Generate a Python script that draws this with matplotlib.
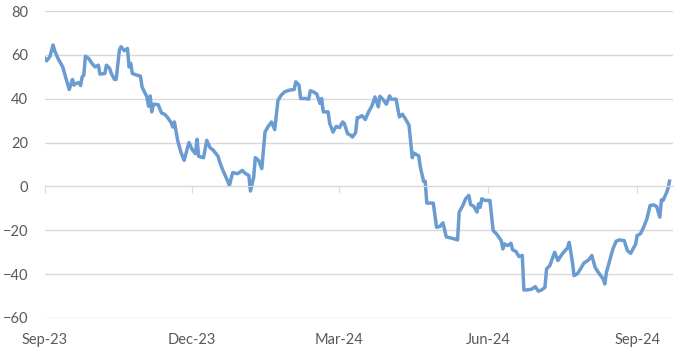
import matplotlib
matplotlib.use('Agg')
import matplotlib.pyplot as plt
import matplotlib.dates as mdates
import pandas as pd

# days since 1 Sep 2023 and the value at each day
days = [0, 1, 3, 5, 6, 8, 9, 11, 13, 15, 17, 18, 19, 21, 22, 23, 24, 25, 27, 29,
        31, 33, 34, 37, 38, 40, 41, 43, 44, 46, 47, 49, 51, 52, 53, 54, 57, 59, 60, 63,
        64, 65, 66, 67, 70, 72, 74, 76, 78, 79, 80, 82, 84, 86, 89, 91, 93, 94, 95, 98,
        100, 102, 104, 107, 108, 110, 112, 114, 116, 119, 122, 124, 126, 127, 129, 130, 132, 134, 136, 138,
        140, 142, 144, 146, 148, 151, 154, 155, 157, 158, 161, 163, 164, 166, 168, 170, 171, 172, 175, 176,
        178, 180, 182, 184, 185, 187, 189, 190, 192, 193, 194, 196, 198, 200, 202, 204, 206, 207, 209, 211,
        213, 214, 217, 219, 221, 223, 225, 226, 227, 228, 231, 232, 234, 235, 236, 240, 242, 244, 246, 248,
        253, 255, 256, 258, 260, 262, 263, 265, 267, 268, 269, 270, 272, 275, 277, 279, 282, 283, 284, 286,
        288, 289, 291, 292, 293, 295, 296, 298, 301, 303, 304, 305, 307, 309, 310, 312, 315, 317, 318, 320,
        323, 324, 326, 327, 329, 331, 333, 336, 338, 340, 342, 345, 346, 347, 349, 351, 353, 355, 358, 360,
        362, 364, 365, 366, 368, 370, 372, 374, 376, 378, 380, 381, 382, 384, 385, 386]
values = [58.4, 57.3, 59.1, 64.5, 61.9, 58.4, 57.1, 54.5, 49.2, 44.2, 48.8, 46.2, 46.9, 47.4, 46.0, 50.0, 50.7, 59.4, 58.4, 56.1,
          54.5, 55.3, 51.2, 51.5, 55.3, 53.8, 51.5, 48.8, 48.8, 62.2, 63.7, 61.9, 62.9, 54.5, 56.1, 51.5, 50.7, 50.3, 45.4, 40.8,
          36.6, 41.3, 34.0, 37.5, 37.3, 33.5, 32.9, 31.2, 29.1, 27.1, 29.4, 21.0, 15.7, 11.9, 20.0, 16.8, 14.9, 21.5, 13.7, 13.1,
          21.0, 17.7, 16.5, 13.7, 11.1, 7.3, 4.0, 0.5, 6.3, 5.8, 7.3, 5.8, 5.0, -2.1, 4.3, 13.1, 11.9, 8.1, 24.8, 27.4,
          29.4, 25.9, 39.3, 41.6, 43.1, 43.9, 44.2, 47.7, 46.2, 40.1, 40.1, 39.8, 43.6, 43.1, 42.1, 37.8, 40.1, 34.0, 34.0, 28.7,
          24.8, 27.4, 26.8, 29.4, 28.7, 24.1, 23.3, 22.5, 24.5, 31.4, 31.4, 32.3, 30.5, 34.0, 36.6, 40.8, 36.3, 41.1, 39.6, 37.5,
          41.3, 39.8, 39.8, 31.7, 32.9, 30.5, 27.9, 20.3, 13.1, 15.2, 13.9, 8.8, 2.3, 2.4, -7.6, -7.6, -18.6, -18.3, -16.6, -23.0,
          -23.9, -24.4, -11.7, -9.1, -5.6, -4.1, -8.2, -9.1, -11.7, -7.9, -9.5, -5.6, -6.4, -6.4, -20.1, -21.6, -24.7, -28.5, -26.2, -27.0,
          -25.9, -28.9, -29.6, -30.8, -32.0, -31.5, -47.2, -47.2, -46.8, -45.7, -46.8, -47.8, -47.2, -46.0, -37.6, -36.1, -30.0, -33.8, -32.6, -30.5,
          -28.0, -25.5, -34.6, -40.7, -39.9, -37.6, -35.0, -33.5, -31.5, -36.9, -39.2, -42.2, -44.5, -39.2, -33.8, -28.5, -25.0, -24.4, -24.7, -29.3,
          -30.5, -27.7, -26.5, -22.4, -21.6, -18.6, -14.8, -8.7, -8.4, -9.1, -14.0, -6.1, -6.4, -3.1, -1.1, 2.4]

tick_dates = ['2023-09-01', '2023-12-01', '2024-03-01', '2024-06-01', '2024-09-01']
y_ticks = [-60, -40, -20, 0, 20, 40, 60, 80]

start = pd.Timestamp('2023-09-01')
dates = start + pd.to_timedelta(days, unit='D')

plt.rcParams['font.family'] = ['Lato', 'DejaVu Sans']
grey = '#d9d9d9'
label_col = '#595959'

fig = plt.figure(figsize=(6.95, 3.54), dpi=100)
ax = fig.add_axes([0.0647, 0.1017, 0.9033, 0.8672])

ax.plot(dates, values, color='#6a9bd1', linewidth=2.5, solid_joinstyle='round')

ax.set_ylim(-60, 80)
ax.set_yticks(y_ticks)
ax.set_xlim(start, start + pd.Timedelta(days=388))
ax.grid(axis='y', color=grey, linewidth=1)
ax.set_axisbelow(True)
for s in ['top', 'right', 'left']:
    ax.spines[s].set_visible(False)
# category axis crosses at zero, labels stay at the bottom
ax.spines['bottom'].set_position(('data', 0))
ax.spines['bottom'].set_color(grey)
ax.tick_params(axis='y', length=0, pad=12, labelsize=10.5, labelcolor=label_col)

ticks = pd.to_datetime(tick_dates)
ax.set_xticks(ticks)
ax.tick_params(axis='x', direction='out', length=5, color=grey, labelbottom=False)

sec = ax.secondary_xaxis('bottom')
sec.set_xticks(ticks)
sec.xaxis.set_major_formatter(mdates.DateFormatter('%b-%y'))
sec.spines['bottom'].set_visible(False)
sec.tick_params(length=0, pad=11, labelsize=10.5, labelcolor=label_col)

fig.savefig('out.png', dpi=100)
